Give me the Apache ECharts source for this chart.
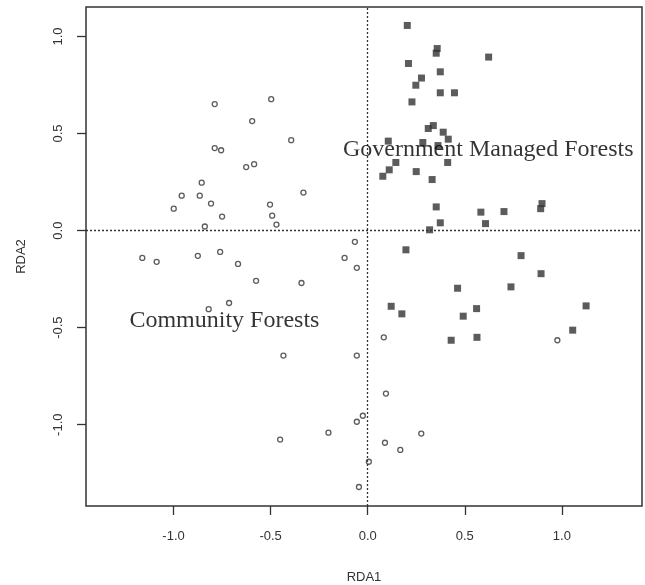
<!DOCTYPE html>
<html><head><meta charset="utf-8">
<script src="https://cdn.jsdelivr.net/npm/echarts@6/dist/echarts.min.js"></script>
<style>html,body{margin:0;padding:0;background:#fff}#c{width:645px;height:585px}</style>
</head><body><div id="c"></div>
<script>
// Community Forests sites (open circles): [RDA1, RDA2]
const communitySites = [
  [-0.788,0.652],[-0.497,0.677],[-0.595,0.564],[-0.394,0.466],[-0.788,0.425],[-0.755,0.414],
  [-0.626,0.327],[-0.585,0.342],[-0.855,0.247],[-0.958,0.180],[-0.865,0.180],[-0.331,0.196],
  [-0.999,0.113],[-0.807,0.139],[-0.503,0.134],[-0.750,0.072],[-0.492,0.077],[-0.470,0.031],
  [-0.839,0.021],
  [-0.066,-0.058],[-1.161,-0.141],[-1.087,-0.161],[-0.875,-0.130],[-0.760,-0.110],[-0.668,-0.172],
  [-0.119,-0.141],[-0.056,-0.192],[-0.575,-0.259],[-0.341,-0.270],[-0.714,-0.373],[-0.819,-0.405],
  [-0.434,-0.644],[-0.056,-0.644],[-0.025,-0.954],[-0.056,-0.985],[-0.202,-1.041],[-0.451,-1.077],
  [0.006,-1.191],[-0.045,-1.321],
  [0.083,-0.550],[0.094,-0.840],[0.089,-1.093],[0.168,-1.130],[0.276,-1.046],[0.977,-0.565]
];
// Government Managed Forests sites (filled squares): [RDA1, RDA2]
const governmentSites = [
  [0.204,1.057],[0.358,0.938],[0.353,0.914],[0.623,0.894],[0.210,0.861],[0.374,0.818],
  [0.277,0.786],[0.248,0.749],[0.374,0.710],[0.447,0.710],[0.228,0.663],[0.338,0.541],
  [0.312,0.526],[0.389,0.507],[0.415,0.471],[0.106,0.461],[0.284,0.454],[0.362,0.438],
  [0.412,0.351],[0.145,0.351],[0.111,0.313],[0.078,0.280],[0.250,0.304],[0.332,0.263],
  [0.353,0.122],[0.898,0.139],[0.891,0.113],[0.583,0.095],[0.702,0.098],[0.374,0.040],
  [0.607,0.036],[0.319,0.004],[0.197,-0.099],[0.790,-0.129],[0.893,-0.222],[0.463,-0.297],
  [0.738,-0.290],[0.121,-0.390],[0.176,-0.429],[0.561,-0.402],[0.492,-0.441],[1.125,-0.388],
  [1.056,-0.513],[0.430,-0.565],[0.563,-0.550]
];
// Group labels placed in data coordinates
const groupLabels = [
  {name:'Government Managed Forests', value:[0.621,0.416]},
  {name:'Community Forests', value:[-0.738,-0.465]}
];
const xTicks = [-1.0,-0.5,0.0,0.5,1.0];
const yTicks = [-1.0,-0.5,0.0,0.5,1.0];

const chart = echarts.init(document.getElementById('c'));
const axisText = {color:'#333', fontFamily:'Liberation Sans, Arial, sans-serif', fontSize:13};
chart.setOption({
  animation:false,
  backgroundColor:'#fff',
  grid:{left:86,right:3,top:7,bottom:79,outerBoundsMode:'none',containLabel:false,
    show:true,borderColor:'#333',borderWidth:1.5,backgroundColor:'transparent'},
  xAxis:{type:'value',min:-1.451,max:1.413,name:'RDA1',nameLocation:'middle',nameGap:65,
    nameTextStyle:axisText,
    axisLine:{show:false,onZero:false},splitLine:{show:false},
    axisTick:{show:true,length:9,lineStyle:{color:'#333',width:1.3},customValues:xTicks},
    axisLabel:Object.assign({margin:24,customValues:xTicks,formatter:v=>v.toFixed(1)},axisText)},
  yAxis:{type:'value',min:-1.419,max:1.152,name:'RDA2',nameLocation:'middle',nameGap:58,
    nameTextStyle:axisText,
    axisLine:{show:false,onZero:false},splitLine:{show:false},
    axisTick:{show:true,length:9,lineStyle:{color:'#333',width:1.3},customValues:yTicks},
    axisLabel:Object.assign({margin:21,rotate:90,customValues:yTicks,formatter:v=>v.toFixed(1)},axisText)},
  series:[
    {type:'scatter',data:communitySites,symbol:'circle',symbolSize:5,
      itemStyle:{color:'#fff',borderColor:'#333',borderWidth:1.3},
      markLine:{silent:true,symbol:'none',label:{show:false},
        lineStyle:{type:[2,2],color:'#333',width:1.3},
        data:[{xAxis:0},{yAxis:0}]}},
    {type:'scatter',data:governmentSites,symbol:'rect',symbolSize:7,
      itemStyle:{color:'#333'}},
    {type:'scatter',data:groupLabels,symbolSize:0,z:10,
      label:{show:true,position:'inside',formatter:'{b}',color:'#000',
        fontFamily:'Liberation Serif, Times New Roman, serif',fontSize:24}}
  ]
});
</script></body></html>
